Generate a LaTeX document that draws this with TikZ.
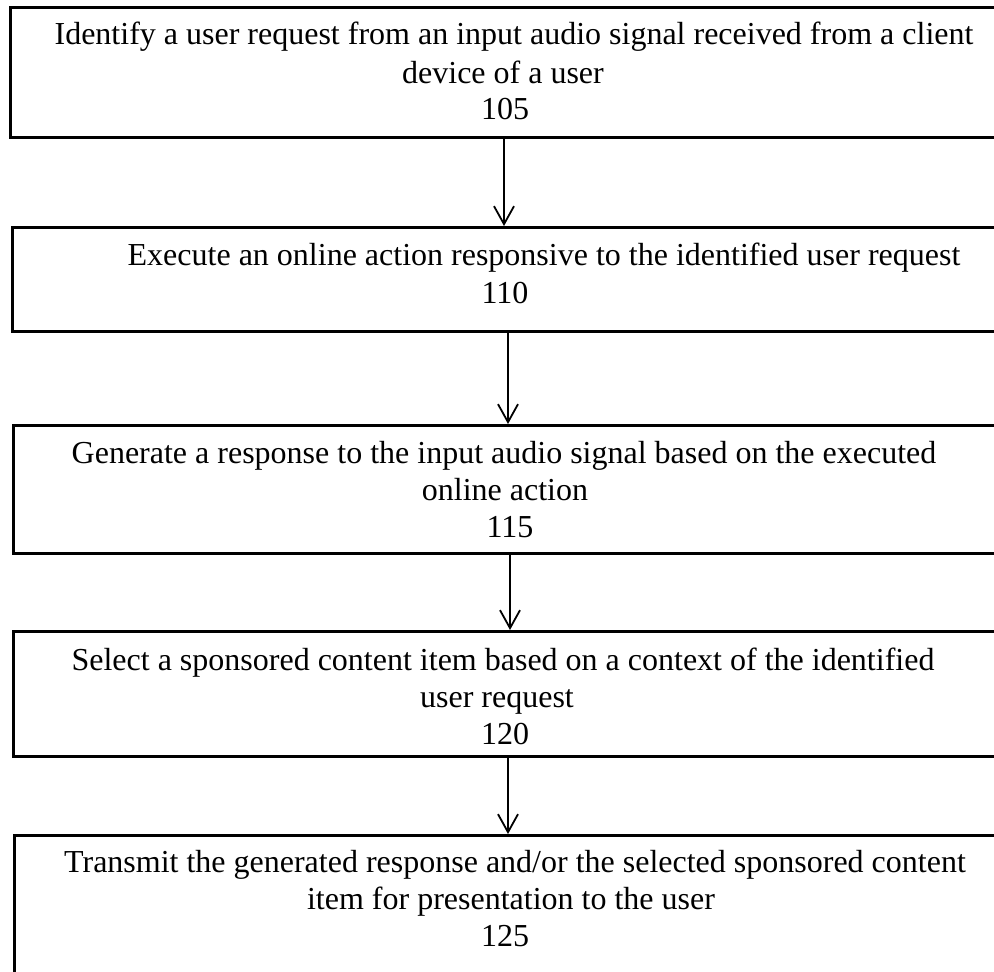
\documentclass[tikz,border=0pt]{standalone}
\usepackage{fontspec}
\setmainfont{Liberation Serif}
\usetikzlibrary{arrows.meta}
\begin{document}
\begin{tikzpicture}[x=1pt,y=-1pt,
  box/.style={draw=black,line width=2.6pt,anchor=north west,inner sep=0pt,minimum width=1020pt},
  txt/.style={inner sep=0pt,text height=22.4pt,text depth=8pt,font=\fontsize{32}{37}\selectfont},
  arr/.style={line width=1.8pt,-{Straight Barb[length=18pt,width=20pt,line width=1.8pt]}}]
\useasboundingbox (0,0) rectangle (994,972);
\clip (0,0) rectangle (994,972);
\fill[white] (0,0) rectangle (994,972);
% boxes
\node[box,minimum height=130pt] (b1) at (9,6) {};
\node[box,minimum height=104pt] (b2) at (11,226) {};
\node[box,minimum height=128pt] (b3) at (12,424) {};
\node[box,minimum height=125pt] (b4) at (12,630) {};
\node[box,minimum height=170pt] (b5) at (13,834) {};
% texts
\node[txt] (t1a) at (514,37) {Identify a user request from an input audio signal received from a client};
\node[txt] (t1b) at (503,76) {device of a user};
\node[txt] (t1c) at (505,112) {105};
\node[txt] (t2a) at (544,258) {Execute an online action responsive to the identified user request};
\node[txt] (t2b) at (505,296) {110};
\node[txt] (t3a) at (504,456) {Generate a response to the input audio signal based on the executed};
\node[txt] (t3b) at (505,493) {online action};
\node[txt] (t3c) at (510,530) {115};
\node[txt] (t4a) at (503,663) {Select a sponsored content item based on a context of the identified};
\node[txt] (t4b) at (497,700) {user request};
\node[txt] (t4c) at (505,737) {120};
\node[txt] (t5a) at (515,865) {Transmit the generated response and/or the selected sponsored content};
\node[txt] (t5b) at (511,902) {item for presentation to the user};
\node[txt] (t5c) at (505,939) {125};
% arrows
\coordinate (x1) at (504,0);
\coordinate (x2) at (508,0);
\coordinate (x3) at (510,0);
\coordinate (x4) at (508,0);
\draw[arr] (x1 |- b1.south) -- (x1 |- b2.north);
\draw[arr] (x2 |- b2.south) -- (x2 |- b3.north);
\draw[arr] (x3 |- b3.south) -- (x3 |- b4.north);
\draw[arr] (x4 |- b4.south) -- (x4 |- b5.north);
\end{tikzpicture}
\end{document}
